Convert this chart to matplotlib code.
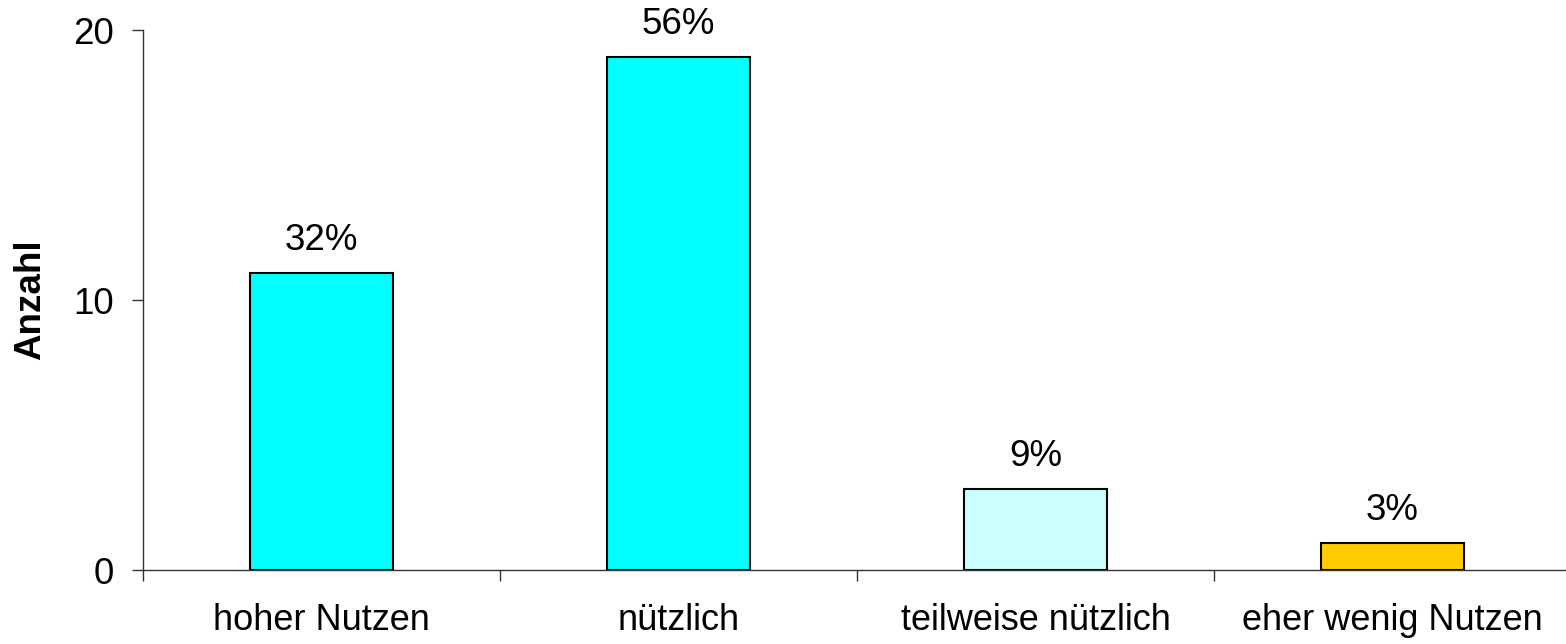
import matplotlib
matplotlib.use("Agg")
import matplotlib.pyplot as plt

categories = ["hoher Nutzen", "nützlich", "teilweise nützlich", "eher wenig Nutzen"]
counts = [11, 19, 3, 1]
pct_labels = ["32%", "56%", "9%", "3%"]
colors = ["#00FFFF", "#00FFFF", "#CCFFFF", "#FFCC00"]
yticks = [0, 10, 20]

plt.rcParams['font.family'] = ['Liberation Sans', 'DejaVu Sans']

fig = plt.figure(figsize=(15.66, 6.44), dpi=100)
ax = fig.add_axes([143/1566, 1-570/644, 1428/1566, 540/644])

x = list(range(len(categories)))
bars = ax.bar(x, counts, width=0.4, color=colors, edgecolor="black", linewidth=1.5)
for xi, v, lab in zip(x, counts, pct_labels):
    ax.annotate(lab, (xi, v), xytext=(0, 11), textcoords="offset points",
                ha="center", va="bottom", fontsize=26.5)

ax.set_xlim(-0.5, len(categories) - 0.5)
ax.set_ylim(0, 20)
ax.set_yticks(yticks)
ax.set_xticks(x)
ax.set_xticklabels(categories, fontsize=26)
ax.set_xticks([i - 0.5 for i in range(len(categories) + 1)], minor=True)
ax.tick_params(axis="x", which="major", length=0, pad=24)
ax.tick_params(axis="x", which="minor", length=8, width=1, color="#333333", direction="out")
ax.tick_params(axis="y", length=8, width=1, color="#333333", direction="out", labelsize=26.5, pad=13)
for s in ["top", "right"]:
    ax.spines[s].set_visible(False)
for s in ["left", "bottom"]:
    ax.spines[s].set_color("#333333")
    ax.spines[s].set_linewidth(1)
ax.set_ylabel("Anzahl", fontsize=26.5, fontweight="bold", labelpad=18)

fig.savefig("out.png", dpi=100)
